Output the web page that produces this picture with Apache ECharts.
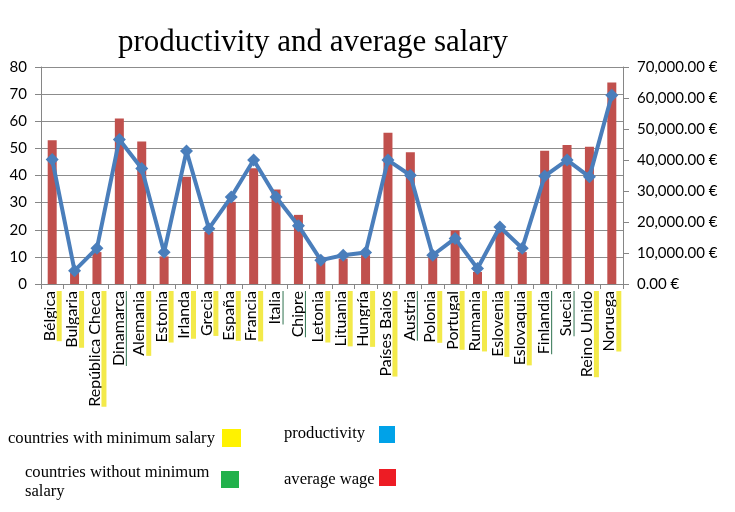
<!DOCTYPE html>
<html>
<head>
<meta charset="utf-8">
<script src="https://cdn.jsdelivr.net/npm/echarts@6/dist/echarts.min.js"></script>
<style>
html,body{margin:0;padding:0;background:#fff;}
#chart{width:735px;height:512px;}
</style>
</head>
<body>
<div id="chart"></div>
<script>
// ---- data ----
var categories = ['Bélgica','Bulgaria','República Checa','Dinamarca','Alemania','Estonia','Irlanda','Grecia','España','Francia','Italia','Chipre','Letonia','Lituania','Hungría','Países Baios','Austria','Polonia','Portugal','Rumania','Eslovenia','Eslovaquia','Finlandia','Suecia','Reino Unido','Noruega'];
var hasMinimumSalary = [true,true,true,false,true,true,true,true,true,true,false,false,true,true,true,true,false,true,true,true,true,true,false,false,true,true];
var productivity = [45.9,4.9,13.2,53.3,42.6,11.7,49.0,20.4,32.1,45.7,32.1,21.5,8.8,10.6,11.6,45.7,40.1,10.6,16.8,5.7,21.0,13.2,39.8,45.7,39.5,69.6];
var averageWage = [46400,3700,10300,53400,46000,8900,34600,16800,26500,37300,30500,22300,8750,8200,9300,48800,42500,8750,17300,3900,17300,10300,43000,44800,44300,65000];
var leftTicks = {min:0, max:80, interval:10};
var rightTicks = {min:0, max:70000, interval:10000};

var chart = echarts.init(document.getElementById('chart'), null, {renderer:'canvas'});
var labelFont = 'Lato';
var serif = '"Liberation Serif", "Times New Roman", serif';

var option = {
  animation:false,
  backgroundColor:'#fff',
  title:{
    text:'productivity and average salary',
    left:308, top:22, textAlign:'center',
    textStyle:{fontFamily:serif, fontSize:31, fontWeight:'normal', color:'#000'}
  },
  grid:{left:41, right:112, top:67, bottom:228},
  xAxis:{
    type:'category', data:categories,
    axisLine:{lineStyle:{color:'#868686'}},
    axisTick:{show:true, length:5, lineStyle:{color:'#868686'}},
    axisLabel:{
      rotate:90, interval:0, margin:7,
      formatter:function(v){
        var idx = categories.indexOf(v);
        return '{t|' + v + '}\n' + (hasMinimumSalary[idx] ? '{y|}' : '{g|}');
      },
      rich:{
        t:{fontFamily:labelFont, fontSize:16, color:'#000', lineHeight:14},
        y:{backgroundColor:'#f3ea4a', height:5, width:'100%', lineHeight:5, padding:[0,0,0,12]},
        g:{backgroundColor:'#2f7350', height:1, width:'100%', lineHeight:2}
      }
    }
  },
  yAxis:[{
    type:'value', min:leftTicks.min, max:leftTicks.max, interval:leftTicks.interval,
    axisLine:{show:true, lineStyle:{color:'#868686'}},
    axisTick:{show:true, length:6, lineStyle:{color:'#868686'}},
    splitLine:{lineStyle:{color:'#8c8c8c'}},
    axisLabel:{fontFamily:labelFont, fontSize:15, color:'#000', margin:14}
  },{
    type:'value', position:'right', min:rightTicks.min, max:rightTicks.max, interval:rightTicks.interval,
    axisLine:{show:true, lineStyle:{color:'#868686'}},
    axisTick:{show:true, length:6, lineStyle:{color:'#868686'}},
    splitLine:{show:false},
    axisLabel:{fontFamily:labelFont, fontSize:15, color:'#000', margin:14,
      formatter:function(v){return v.toLocaleString('en-US',{minimumFractionDigits:2, maximumFractionDigits:2}) + ' €';}}
  }],
  series:[{
    name:'average wage', type:'bar', yAxisIndex:1, data:averageWage,
    barWidth:9, itemStyle:{color:'#c0504d'}
  },{
    name:'productivity', type:'line', yAxisIndex:0, data:productivity,
    symbol:'diamond', symbolSize:13,
    lineStyle:{color:'#4a7ebb', width:4},
    itemStyle:{color:'#4a7ebb'}
  }],
  graphic:[
    {type:'text', left:8, top:430, style:{text:'countries with minimum salary', font:'16.6px ' + serif, fill:'#000'}},
    {type:'rect', left:222, top:429, shape:{width:19, height:18}, style:{fill:'#fff200'}},
    {type:'text', left:25, top:463, style:{text:'countries without minimum\nsalary', font:'16.6px ' + serif, fill:'#000', lineHeight:19}},
    {type:'rect', left:221, top:471, shape:{width:18, height:17}, style:{fill:'#22b14c'}},
    {type:'text', left:284, top:425, style:{text:'productivity', font:'16.6px ' + serif, fill:'#000'}},
    {type:'rect', left:379, top:426, shape:{width:16, height:17}, style:{fill:'#00a2e8'}},
    {type:'text', left:284, top:471, style:{text:'average wage', font:'16.6px ' + serif, fill:'#000'}},
    {type:'rect', left:379, top:469, shape:{width:17, height:17}, style:{fill:'#ed1c24'}}
  ]
};
chart.setOption(option);
</script>
</body>
</html>
